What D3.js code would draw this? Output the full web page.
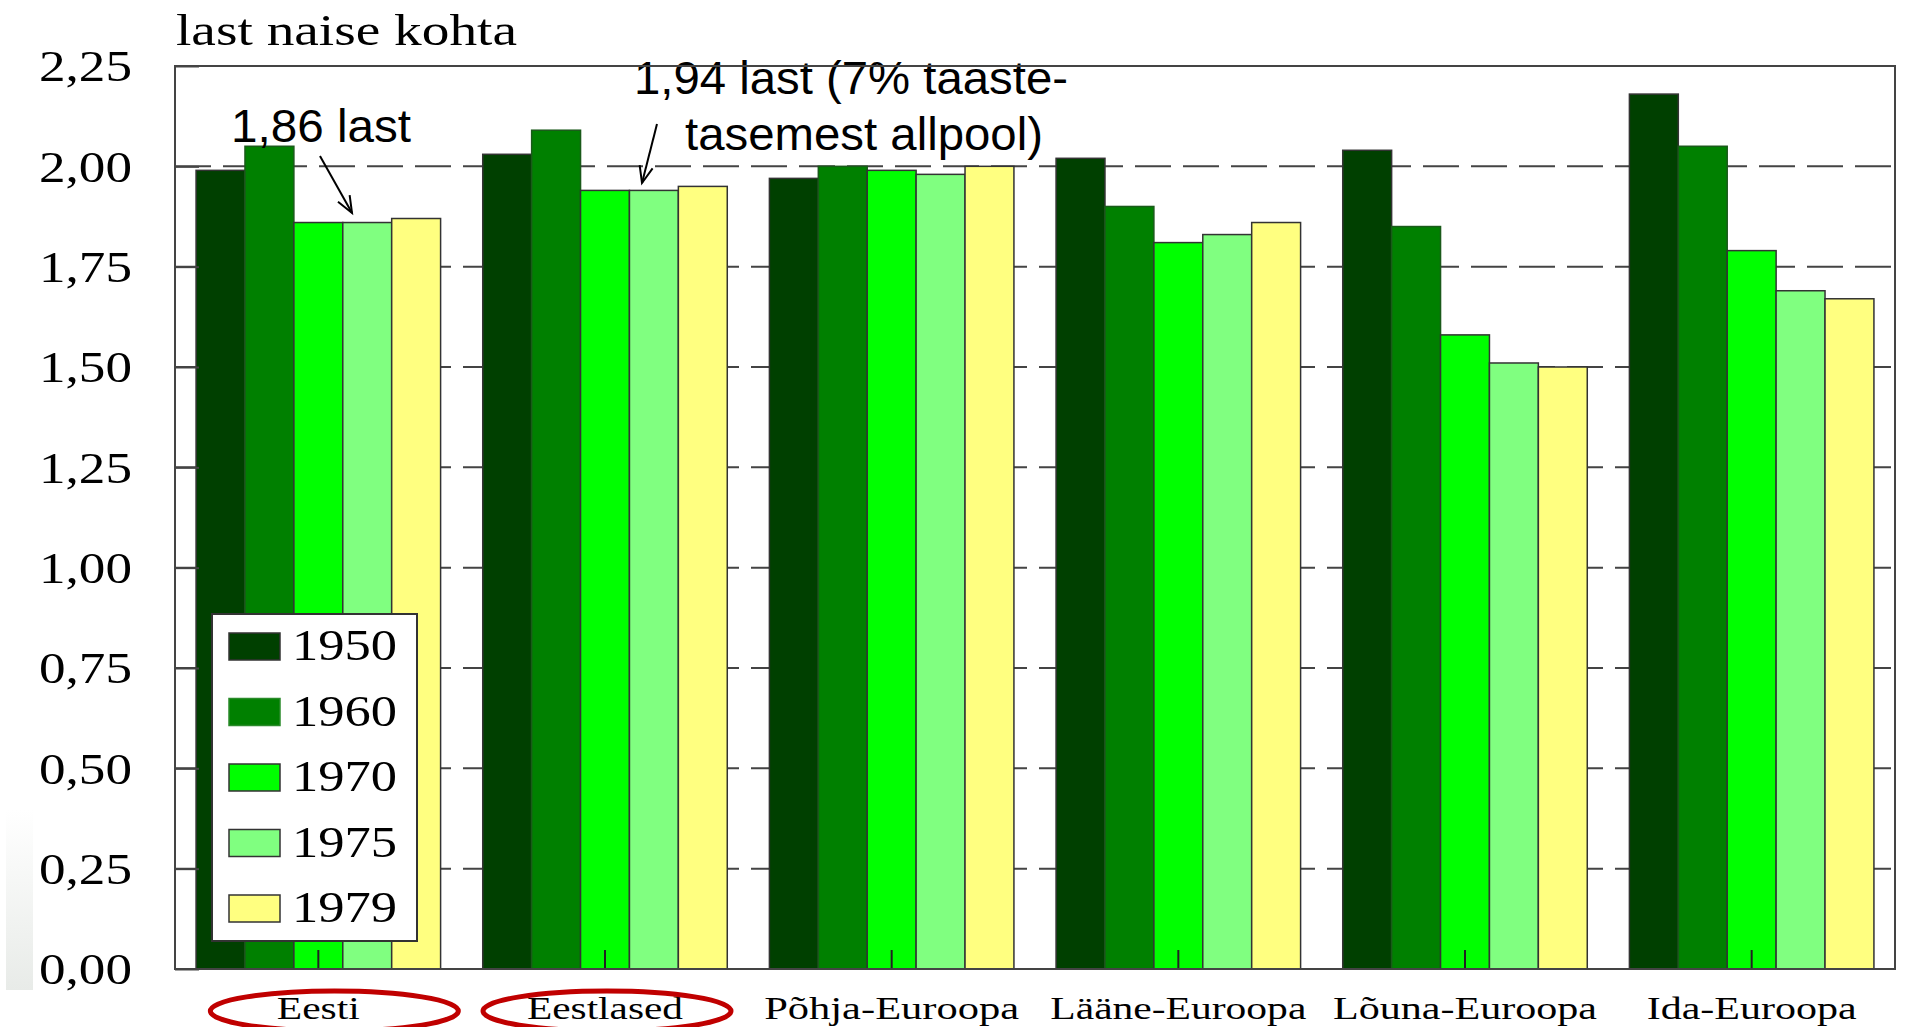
<!DOCTYPE html>
<html><head><meta charset="utf-8">
<script src="https://cdn.jsdelivr.net/npm/d3@7"></script>
<style>html,body{margin:0;padding:0;background:#fff;}svg{display:block;}</style>
</head><body>
<script>
const categories = ["Eesti","Eestlased","Põhja-Euroopa","Lääne-Euroopa","Lõuna-Euroopa","Ida-Euroopa"];
const years = ["1950","1960","1970","1975","1979"];
const v1950 = [1.99,2.03,1.97,2.02,2.04,2.18];
const v1960 = [2.05,2.09,2.00,1.90,1.85,2.05];
const v1970 = [1.86,1.94,1.99,1.81,1.58,1.79];
const v1975 = [1.86,1.94,1.98,1.83,1.51,1.69];
const v1979 = [1.87,1.95,2.00,1.86,1.50,1.67];
const seriesValues = [v1950,v1960,v1970,v1975,v1979];
const colors = ["#004000","#008000","#00ff00","#80ff80","#ffff80"];
const yTicks = [0,0.25,0.5,0.75,1,1.25,1.5,1.75,2,2.25];
const gridValues = [0.25,0.5,0.75,1,1.25,1.5,1.75,2];
const circled = ["Eesti","Eestlased"];
const labelWidths = [83,156,255,256,264,210];

const W=1906,H=1027;
const L=175,R=1895,T=66,B=969;
const svg=d3.select("body").append("svg").attr("width",W).attr("height",H);
const x=d3.scaleBand().domain(categories).range([L,R]).paddingInner(0.147).paddingOuter(0.0735);
const xs=d3.scaleBand().domain(years).range([0,x.bandwidth()]);
const y=d3.scaleLinear().domain([0,2.25]).range([B,T]);

// faint artifact at left
const defs=svg.append("defs");
const g0=defs.append("linearGradient").attr("id","fade").attr("x1",0).attr("y1",0).attr("x2",0).attr("y2",1);
g0.append("stop").attr("offset","0%").attr("stop-color","#fff");
g0.append("stop").attr("offset","100%").attr("stop-color","#e8ebe8");
svg.append("rect").attr("x",6).attr("y",810).attr("width",27).attr("height",180).attr("fill","url(#fade)");

// dashed grid
svg.append("g").selectAll("line").data(gridValues).join("line")
  .attr("x1",L).attr("x2",R-3).attr("y1",d=>y(d)).attr("y2",d=>y(d))
  .attr("stroke","#444").attr("stroke-width",2).attr("stroke-dasharray","36,12");

// bars
const gg=svg.append("g").selectAll("g").data(categories).join("g")
  .attr("transform",d=>`translate(${x(d)},0)`);
gg.selectAll("rect").data((c,i)=>years.map((yr,j)=>({yr,v:seriesValues[j][i],j})))
  .join("rect")
  .attr("x",d=>xs(d.yr)).attr("width",xs.bandwidth())
  .attr("y",d=>y(d.v)).attr("height",d=>B-y(d.v))
  .attr("fill",d=>colors[d.j]).attr("stroke",d=>d.j===1?"#1a5a1a":"#333").attr("stroke-width",1.5);

// x ticks (inside)
svg.append("g").selectAll("line").data(categories).join("line")
  .attr("x1",d=>x(d)+x.bandwidth()/2).attr("x2",d=>x(d)+x.bandwidth()/2)
  .attr("y1",B).attr("y2",B-19).attr("stroke","#222").attr("stroke-width",2);

// y axis
const yAxis=d3.axisLeft(y).tickValues(yTicks).tickSizeInner(-24).tickSizeOuter(0).tickPadding(43)
  .tickFormat(d=>d3.format(".2f")(d).replace(".",","));
const ya=svg.append("g").attr("transform",`translate(${L},0)`).call(yAxis);
ya.select(".domain").remove();
ya.selectAll(".tick line").attr("stroke","#444").attr("stroke-width",2);
ya.selectAll(".tick text").attr("font-family","Liberation Serif").attr("font-size",45).attr("fill","#000")
  .attr("textLength",93).attr("lengthAdjust","spacingAndGlyphs").attr("dy","0.33em");

// x labels
svg.append("g").selectAll("text").data(categories).join("text")
  .attr("x",d=>x(d)+x.bandwidth()/2).attr("y",1019).attr("text-anchor","middle")
  .attr("font-family","Liberation Serif").attr("font-size",31).attr("fill","#000")
  .attr("textLength",(d,i)=>labelWidths[i]).attr("lengthAdjust","spacingAndGlyphs")
  .text(d=>d);

// red ellipses
const ellOffset=[16,2];
svg.append("g").selectAll("ellipse").data(circled).join("ellipse")
  .attr("cx",(d,i)=>x(d)+x.bandwidth()/2+ellOffset[i]).attr("cy",1011).attr("rx",124).attr("ry",20)
  .attr("fill","none").attr("stroke","#c00000").attr("stroke-width",5);

// title
svg.append("text").attr("x",176).attr("y",45).attr("font-family","Liberation Serif").attr("font-size",45)
  .attr("textLength",341).attr("lengthAdjust","spacingAndGlyphs").text("last naise kohta");

// annotations
const ann=svg.append("g").attr("font-family","Liberation Sans").attr("font-size",46).attr("fill","#000");
ann.append("text").attr("x",231).attr("y",142).attr("textLength",180).attr("lengthAdjust","spacingAndGlyphs").text("1,86 last");
ann.append("text").attr("x",634).attr("y",94).attr("textLength",434).attr("lengthAdjust","spacingAndGlyphs").text("1,94 last (7% taaste-");
ann.append("text").attr("x",685).attr("y",150).attr("textLength",358).attr("lengthAdjust","spacingAndGlyphs").text("tasemest allpool)");

function arrow(x1,y1,x2,y2){
  const a=Math.atan2(y2-y1,x2-x1), len=18, sp=0.38;
  const p=svg.append("g").attr("stroke","#000").attr("stroke-width",2).attr("fill","none");
  p.append("line").attr("x1",x1).attr("y1",y1).attr("x2",x2).attr("y2",y2);
  p.append("path").attr("d",`M${x2-len*Math.cos(a-sp)},${y2-len*Math.sin(a-sp)}L${x2},${y2}L${x2-len*Math.cos(a+sp)},${y2-len*Math.sin(a+sp)}`);
}
arrow(320,156,352,213);
arrow(657,124,642,183);

// frame
svg.append("rect").attr("x",L).attr("y",T).attr("width",R-L).attr("height",B-T)
  .attr("fill","none").attr("stroke","#444").attr("stroke-width",2);

// legend
const lg=svg.append("g");
lg.append("rect").attr("x",212).attr("y",614).attr("width",205).attr("height",327)
  .attr("fill","#fff").attr("stroke","#333").attr("stroke-width",2);
const li=lg.selectAll("g.li").data(years).join("g").attr("class","li")
  .attr("transform",(d,i)=>`translate(0,${633+i*65.5})`);
li.append("rect").attr("x",229).attr("y",0).attr("width",51).attr("height",27)
  .attr("fill",(d,i)=>colors[i]).attr("stroke",(d,i)=>i===1?"#2a8a2a":"#333").attr("stroke-width",1.5);
li.append("text").attr("x",292).attr("y",27).attr("font-family","Liberation Serif").attr("font-size",45)
  .attr("textLength",105).attr("lengthAdjust","spacingAndGlyphs").text(d=>d);
</script>
</body></html>
